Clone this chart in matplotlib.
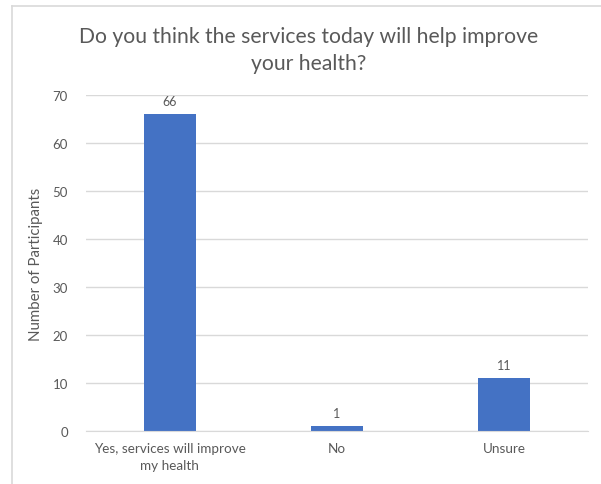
import matplotlib.pyplot as plt
from matplotlib.lines import Line2D

categories = ["Yes, services will improve\nmy health", "No", "Unsure"]
participants = [66, 1, 11]
y_ticks = [0, 10, 20, 30, 40, 50, 60, 70]

bar_color = "#4472C4"
text_color = "#595959"
grid_color = "#D9D9D9"

plt.rcParams["font.family"] = ["Lato", "DejaVu Sans"]

fig = plt.figure(figsize=(6.01, 4.85), dpi=100)
ax = fig.add_axes([0.143, 0.109, 0.835, 0.693])

x = range(len(categories))
ax.bar(x, participants, width=0.31, color=bar_color, zorder=3)

# value labels above each bar
for xi, v in zip(x, participants):
    ax.annotate(str(v), (xi, v), xytext=(0, 5), textcoords="offset points",
                ha="center", va="bottom", fontsize=9, color=text_color)

ax.set_xlim(-0.5, len(categories) - 0.5)
ax.set_ylim(0, 70)
ax.set_yticks(y_ticks)
ax.set_xticks(list(x))
ax.set_xticklabels(categories, fontsize=9.7, color=text_color, linespacing=1.45)
ax.tick_params(axis="y", labelsize=9.5, labelcolor=text_color, length=0, pad=13)
ax.tick_params(axis="x", length=0, pad=8)
ax.yaxis.grid(True, color=grid_color, linewidth=1, zorder=0)
for side in ["top", "right", "left"]:
    ax.spines[side].set_visible(False)
ax.spines["bottom"].set_color(grid_color)
ax.spines["bottom"].set_zorder(4)

ax.set_ylabel("Number of Participants", fontsize=10.8, color=text_color)
ax.yaxis.set_label_coords(-0.085, 0.5)

fig.text(0.514, 0.896, "Do you think the services today will help improve\nyour health?",
         ha="center", va="center", fontsize=15.2, color=text_color, linespacing=1.42)

# chart frame: top and left edges only
fig.add_artist(Line2D([12 / 601, 1], [1 - 7 / 485, 1 - 7 / 485], color="#D9D9D9", lw=1.2))
fig.add_artist(Line2D([12 / 601, 12 / 601], [0, 1 - 7 / 485], color="#D9D9D9", lw=1.2))

fig.savefig("out.png", dpi=100)
